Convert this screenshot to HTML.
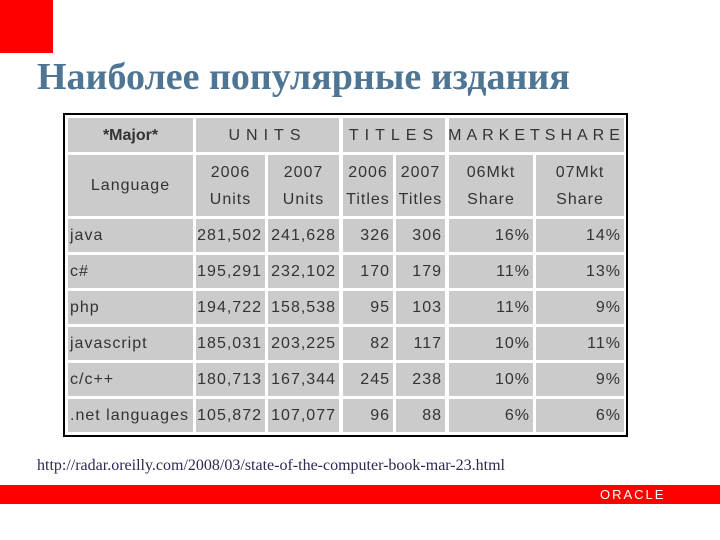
<!DOCTYPE html>
<html><head><meta charset="utf-8"><style>
body{margin:0;width:720px;height:540px;background:#fff;position:relative;overflow:hidden;font-family:"Liberation Sans",sans-serif}
.c{position:absolute;background:#cbcbcb;color:#333;font-size:16px;letter-spacing:1px;display:flex;align-items:center;box-sizing:border-box;line-height:27px}
.ctr{justify-content:center;text-align:center}
.r{justify-content:flex-end;padding-right:3px}
.l{padding-left:2px}
</style></head><body>
<div style="position:absolute;left:0;top:0;width:53px;height:53px;background:#f00"></div>
<div style="position:absolute;left:37px;top:55px;font-family:'Liberation Serif',serif;font-weight:bold;font-size:38px;color:#4f7594;white-space:nowrap">Наиболее популярные издания</div>
<div style="position:absolute;left:63px;top:113px;width:561px;height:320px;border:2px solid #000;background:#fff"></div>
<div id="cells"></div>
<div style="position:absolute;left:37px;top:457px;font-family:'Liberation Serif',serif;font-size:16px;color:#2a2a55;white-space:nowrap">http://radar.oreilly.com/2008/03/state-of-the-computer-book-mar-23.html</div>
<div style="position:absolute;left:0;top:485px;width:720px;height:19px;background:#f00"></div>
<div style="position:absolute;left:600px;top:487px;font-size:13px;color:#fff;letter-spacing:2px">ORACLE</div>
<script>
const cols=[[68,193],[196,265],[268,339],[343,393],[396,445],[449,533],[536,624]];
const rowsY=[[219,252],[255,288],[291,324],[327,360],[363,396],[399,432]];
const languages=["java","c#","php","javascript","c/c++",".net languages"];
const units2006=["281,502","195,291","194,722","185,031","180,713","105,872"];
const units2007=["241,628","232,102","158,538","203,225","167,344","107,077"];
const titles2006=["326","170","95","82","245","96"];
const titles2007=["306","179","103","117","238","88"];
const share06=["16%","11%","11%","10%","10%","6%"];
const share07=["14%","13%","9%","11%","9%","6%"];
const root=document.getElementById('cells');
function cell(x1,y1,x2,y2,html,cls,name){
 const d=document.createElement('div');
 d.className='c '+cls;
 d.style.left=x1+'px';d.style.top=y1+'px';d.style.width=(x2-x1)+'px';d.style.height=(y2-y1)+'px';
 d.innerHTML=html;
 
 
 root.appendChild(d);
}
cell(68,118,193,152,'<b style="letter-spacing:0">*Major*</b>','ctr','header-major');
cell(196,118,339,152,'<span style="letter-spacing:6px">UNITS</span>','ctr','header-units');
cell(343,118,445,152,'<span style="letter-spacing:6px">TITLES</span>','ctr','header-titles');
cell(449,118,624,152,'<span style="letter-spacing:5px">MARKETSHARE</span>','ctr','header-marketshare');
cell(68,155,193,216,'Language','ctr','header-language');
const sub=["2006<br>Units","2007<br>Units","2006<br>Titles","2007<br>Titles","06Mkt<br>Share","07Mkt<br>Share"];
for(let i=0;i<6;i++)cell(cols[i+1][0],155,cols[i+1][1],216,sub[i],'ctr','subheader');
const series=[units2006,units2007,titles2006,titles2007,share06,share07];
for(let r=0;r<6;r++){
 cell(cols[0][0],rowsY[r][0],cols[0][1],rowsY[r][1],languages[r],'l','language-cell');
 for(let c=0;c<6;c++)cell(cols[c+1][0],rowsY[r][0],cols[c+1][1],rowsY[r][1],series[c][r],'r','value-cell');
}
</script>
</body></html>
